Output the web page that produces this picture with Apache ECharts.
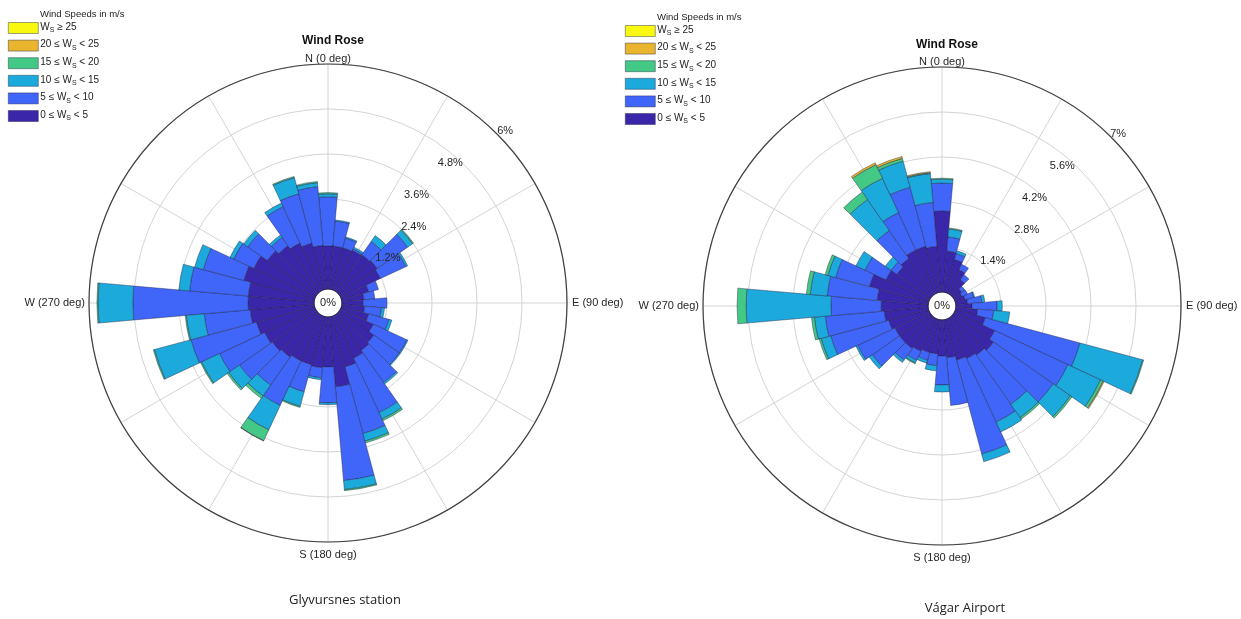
<!DOCTYPE html>
<html>
<head>
<meta charset="utf-8">
<title>Wind Rose</title>
<script src="https://cdn.jsdelivr.net/npm/echarts@6/dist/echarts.min.js"></script>
<style>
  html, body { margin: 0; padding: 0; background: #ffffff; }
  #chart { width: 1241px; height: 619px; }
</style>
</head>
<body>
<div id="chart"></div>
<script>
// Wind direction sectors (degrees from north, 10 degree bins)
const directions = ['0','10','20','30','40','50','60','70','80','90','100','110',
  '120','130','140','150','160','170','180','190','200','210','220','230',
  '240','250','260','270','280','290','300','310','320','330','340','350'];

// Speed bins, listed from calm to strong
const speedBins = ['0 ≤ Ws < 5', '5 ≤ Ws < 10', '10 ≤ Ws < 15', '15 ≤ Ws < 20', '20 ≤ Ws < 25', 'Ws ≥ 25'];
const binColors = ['#3a26a8', '#4066f9', '#1ca9dc', '#43c985', '#e9b52f', '#f8f810'];

// Glyvursnes station: frequency (%) per direction for each speed bin
const glyv_0_5   = [1.15,1.15,1.15,1.17,1.20,1.23,1.17,0.75,0.59,0.56,0.61,0.75,0.96,1.12,1.17,1.25,1.39,1.87,1.33,1.36,1.33,1.33,1.39,1.44,1.49,1.60,1.71,1.76,1.76,1.95,1.81,1.60,1.49,1.39,1.28,1.17];
const glyv_5_10  = [1.31,0.67,0.27,0.05,0.43,0.99,0.75,0.27,0.29,0.64,0.45,0.56,0.99,0.83,1.04,1.60,1.84,2.51,0.96,0.27,0.75,1.31,0.91,1.07,1.33,1.81,1.23,3.07,1.57,1.12,0.59,0.64,0.27,1.07,1.36,1.57];
const glyv_10_15 = [0.08,0.03,0.03,0.05,0.19,0.16,0.05,0,0,0,0.08,0.08,0.03,0.03,0.05,0.19,0.21,0.24,0.05,0.05,0.40,0.72,0.35,0.35,0.53,1.01,0.48,0.93,0.29,0.24,0.11,0.13,0.08,0.11,0.45,0.11];
const glyv_15_20 = [0.03,0,0,0,0,0.03,0,0,0,0,0,0,0,0,0,0.05,0.05,0.03,0,0,0.03,0.32,0.08,0.05,0.03,0.03,0.03,0.03,0,0,0,0,0,0,0.03,0.03];
const glyv_20_25 = [0,0,0,0,0,0,0,0,0,0,0,0,0,0,0,0,0,0,0,0,0,0.01,0,0,0,0,0,0,0,0,0,0,0,0,0,0];
const glyv_25    = [0,0,0,0,0,0,0,0,0,0,0,0,0,0,0,0,0,0,0,0,0,0,0,0,0,0,0,0,0,0,0,0,0,0,0,0];

// Vágar Airport: frequency (%) per direction for each speed bin
const vagar_0_5   = [2.52,1.28,1.06,0.81,0.56,0.31,0.25,0.31,0.37,0.50,0.68,0.96,1.37,1.52,1.43,1.37,1.31,1.18,1.12,1.06,1.06,1.12,1.18,1.18,1.18,1.28,1.37,1.46,1.59,1.90,1.49,1.28,1.37,1.49,1.49,1.43];
const vagar_5_10  = [0.87,0.44,0.19,0.19,0.19,0.12,0.19,0.28,0.44,0.78,0.50,3.05,2.52,2.27,1.87,2.18,3.02,1.49,0.90,0.37,0.25,0.31,0.44,1.03,1.28,1.87,1.84,1.56,1.56,1.09,0.72,0.22,1.06,1.28,1.90,1.37];
const vagar_10_15 = [0.12,0.25,0.09,0,0,0,0,0.03,0.09,0.16,0.50,2.02,1.12,0.65,0.50,0.34,0.25,0,0.22,0.16,0.09,0.09,0.09,0.12,0.06,0.31,0.34,2.64,0.53,0.25,0.31,0.22,1.18,1.18,0.84,0.90];
const vagar_15_20 = [0.03,0.03,0,0,0,0,0,0,0,0,0,0.03,0.09,0.06,0.06,0,0,0,0,0,0,0.03,0,0,0,0.06,0.09,0.28,0.12,0.09,0,0,0.28,0.47,0.09,0.03];
const vagar_20_25 = [0,0,0,0,0,0,0,0,0,0,0,0,0.03,0,0,0,0,0,0,0,0,0,0,0,0,0,0,0,0,0,0,0,0,0.06,0.06,0.03];
const vagar_25    = [0,0,0,0,0,0,0,0,0,0,0,0,0,0,0,0,0,0,0,0,0,0,0,0,0,0,0,0,0,0,0,0,0,0,0,0];

// Radial axis ticks (%)
const glyvTicks  = [0, 1.2, 2.4, 3.6, 4.8, 6];
const vagarTicks = [0, 1.4, 2.8, 4.2, 5.6, 7];

// Compass labels around the outer circle (rich style key, text)
const compassLabels = { 0: ['n', 'N (0 deg)'], 90: ['e', 'E (90 deg)'], 180: ['s', 'S (180 deg)'], 270: ['w', 'W (270 deg)'] };

const roses = [
  { name: 'Glyvursnes station', center: [328, 303], ticks: glyvTicks, stack: 'glyv',
    bins: [glyv_0_5, glyv_5_10, glyv_10_15, glyv_15_20, glyv_20_25, glyv_25],
    // horizontal nudge of each ring label (+ right / - left padding)
    labelPad: [0, 42, 30, -28, -24, 22],
    titleTop: 30, captionX: 340, captionTop: 589, legendLeft: 8, legendTop: 21 },
  { name: 'Vágar Airport', center: [942, 306], ticks: vagarTicks, stack: 'vagar',
    bins: [vagar_0_5, vagar_5_10, vagar_10_15, vagar_15_20, vagar_20_25, vagar_25],
    labelPad: [0, 24, 28, -20, -28, 20],
    titleTop: 34, captionX: 960, captionTop: 597, legendLeft: 625, legendTop: 24 }
];

const FONT = '"Liberation Sans", Arial, sans-serif';
const INNER = 14, OUTER = 239;

const polar = [], angleAxis = [], radiusAxis = [], series = [], legend = [], title = [], graphic = [];

roses.forEach((rose) => {
  const step = rose.ticks[1];
  const maxR = rose.ticks[rose.ticks.length - 1];
  const fmt = v => parseFloat(v.toFixed(2)) + '%';

  // polar for the bars + rings
  const pBars = polar.length;
  polar.push({ center: rose.center, radius: [INNER, OUTER] });
  angleAxis.push({ polarIndex: pBars, type: 'category', data: directions, startAngle: 95,
    clockwise: true, show: false });
  radiusAxis.push({ polarIndex: pBars, type: 'value', min: 0, max: maxR, interval: step,
    axisLine: { show: false }, axisTick: { show: false }, axisLabel: { show: false },
    splitLine: { show: true, lineStyle: { color: '#d4d4d4', width: 1 } } });

  // polar for spokes, outer circle and compass labels
  const pGrid = polar.length;
  polar.push({ center: rose.center, radius: [INNER, OUTER] });
  angleAxis.push({ polarIndex: pGrid, type: 'value', min: 0, max: 360, interval: 30,
    startAngle: 90, clockwise: true,
    axisLine: { show: true, lineStyle: { color: '#404040', width: 1.2 } },
    axisTick: { show: false },
    axisLabel: { show: true, margin: 0, color: '#262626', fontFamily: FONT, fontSize: 11,
      formatter: v => {
        const c = compassLabels[v];
        return c && v < 360 ? '{' + c[0] + '|' + c[1] + '}' : '';
      },
      rich: {
        n: { fontFamily: FONT, fontSize: 11, color: '#262626' },
        e: { fontFamily: FONT, fontSize: 11, color: '#262626', padding: [0, 0, 0, 5] },
        s: { fontFamily: FONT, fontSize: 11, color: '#262626', padding: [7, 0, 0, 0] },
        w: { fontFamily: FONT, fontSize: 11, color: '#262626', padding: [0, 4, 0, 0] }
      } },
    splitLine: { show: true, lineStyle: { color: '#d4d4d4', width: 1 } } });
  radiusAxis.push({ polarIndex: pGrid, type: 'value', min: 0, max: maxR, show: false });

  // polar carrying the percentage labels along the 45 degree direction, drawn above the bars
  const ringRich = {};
  rose.ticks.forEach((t, i) => {
    const p = rose.labelPad[i];
    ringRich['k' + i] = { fontFamily: FONT, fontSize: 11, color: '#262626',
      padding: p >= 0 ? [0, 0, 0, p] : [0, -p, 0, 0] };
  });
  const pLab = polar.length;
  polar.push({ center: rose.center, radius: [INNER, OUTER] });
  angleAxis.push({ polarIndex: pLab, type: 'value', min: 0, max: 360, startAngle: 45, show: false });
  radiusAxis.push({ polarIndex: pLab, type: 'value', min: 0, max: maxR, interval: step, z: 20,
    axisLine: { show: false }, axisTick: { show: false }, splitLine: { show: false },
    axisLabel: { show: true, align: 'center', color: '#262626', fontFamily: FONT, fontSize: 11, margin: 4,
      formatter: (v) => {
        if (v === 0) return '';
        const i = rose.ticks.findIndex(t => Math.abs(t - v) < 1e-6);
        return '{k' + i + '|' + fmt(v) + '}';
      },
      rich: ringRich } });

  // stacked speed bins; empty bins are left out so they draw no outline
  rose.bins.forEach((vals, i) => {
    series.push({
      type: 'bar', name: speedBins[i], coordinateSystem: 'polar', polarIndex: pBars,
      stack: rose.stack, data: vals.map(v => (v > 0 ? v : '-')), barCategoryGap: '0%',
      itemStyle: { color: binColors[i], borderColor: 'rgba(30,30,60,0.7)', borderWidth: 0.6 },
      emphasis: { disabled: true }, animation: false
    });
  });

  legend.push({
    data: speedBins.slice().reverse(), left: rose.legendLeft, top: rose.legendTop, padding: 0,
    orient: 'vertical', itemWidth: 30, itemHeight: 11, itemGap: 4.6, icon: 'rect',
    selectedMode: false,
    itemStyle: { borderColor: 'rgba(30,30,60,0.7)', borderWidth: 0.6 },
    formatter: name => {
      const parts = name.split('Ws');
      return '{t|' + parts[0] + '}{t|W}{s|S}{t|' + parts[1] + '}';
    },
    textStyle: { padding: [0, 0, 0, -3], rich: {
      t: { fontFamily: FONT, fontSize: 10, color: '#222', lineHeight: 12, verticalAlign: 'top' },
      s: { fontFamily: FONT, fontSize: 7, color: '#222', lineHeight: 8, verticalAlign: 'bottom', padding: [6, 0, 0, 0] }
    } }
  });

  title.push({ text: 'Wind Rose', left: rose.center[0], top: rose.titleTop, textAlign: 'center',
    textStyle: { fontFamily: FONT, fontSize: 12, fontWeight: 'bold', color: '#111' } });
  title.push({ text: 'Wind Speeds in m/s', left: rose.legendLeft + 27, top: rose.legendTop - 17,
    textStyle: { fontFamily: FONT, fontSize: 9.5, fontWeight: 'normal', color: '#222' } });
  title.push({ text: rose.name, left: rose.captionX, top: rose.captionTop, textAlign: 'center',
    textStyle: { fontFamily: '"Open Sans", "Noto Sans", sans-serif', fontSize: 13, fontWeight: 'normal', color: '#222' } });

  // the "0%" marker in the hole at the centre
  graphic.push({ type: 'text', x: rose.center[0], y: rose.center[1], z: 100,
    style: { text: '0%', fill: '#262626', font: '11px ' + FONT, align: 'center', verticalAlign: 'middle' } });
});

const chart = echarts.init(document.getElementById('chart'), null, { renderer: 'canvas' });
chart.setOption({
  backgroundColor: '#ffffff',
  animation: false,
  title, legend, polar, angleAxis, radiusAxis, series, graphic
});
</script>
</body>
</html>
